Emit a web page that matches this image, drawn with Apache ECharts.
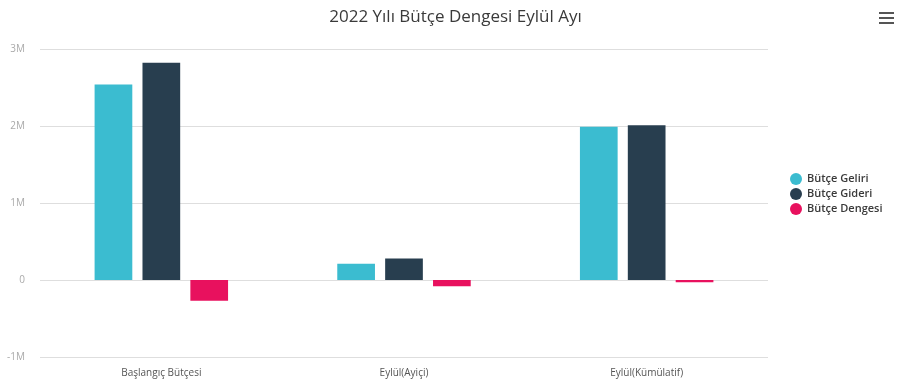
<!DOCTYPE html>
<html><head><meta charset="utf-8">
<script src="https://cdn.jsdelivr.net/npm/echarts@6/dist/echarts.min.js"></script>
<style>html,body{margin:0;padding:0;background:#fff}#c{width:911px;height:391px}</style>
</head><body><div id="c"></div>
<script>
var categories = ['Başlangıç Bütçesi', 'Eylül(Ayiçi)', 'Eylül(Kümülatif)'];
var seriesNames = ['Bütçe Geliri', 'Bütçe Gideri', 'Bütçe Dengesi'];
var geliri = [2540000, 210000, 1990000];
var gideri = [2820000, 280000, 2010000];
var dengesi = [-270000, -80000, -30000];
var colors = ['#3bbcd0', '#283e4f', '#e8115e'];

var chart = echarts.init(document.getElementById('c'));
var font = '"Open Sans", "Noto Sans", sans-serif';
function bar(name, data, color) {
  return { name: name, type: 'bar', data: data, itemStyle: { color: color }, barGap: '27%', barCategoryGap: '45%' };
}
chart.setOption({
  animation: false,
  color: colors,
  title: { text: '2022 Yılı Bütçe Dengesi Eylül Ayı', left: 'center', top: 4,
    textStyle: { fontFamily: font, fontSize: 17, fontWeight: 'normal', color: '#3a3a3a' } },
  legend: { orient: 'vertical', left: 785, top: 168, icon: 'circle', itemWidth: 12, itemHeight: 12, itemGap: 3,
    textStyle: { fontFamily: font, fontSize: 11, fontWeight: 600, color: '#3a3a3a' } },
  grid: { left: 40, right: 143, top: 49, bottom: 34 },
  xAxis: { type: 'category', data: categories,
    axisLine: { show: false, onZero: false }, axisTick: { show: false },
    axisLabel: { margin: 11, fontFamily: font, fontSize: 10, color: '#555' } },
  yAxis: { type: 'value', min: -1000000, max: 3000000, interval: 1000000,
    axisLabel: { margin: 15, fontFamily: font, fontSize: 10, color: '#aaa',
      formatter: function (v) { return v === 0 ? '0' : (v / 1000000) + 'M'; } },
    splitLine: { lineStyle: { color: '#dedede' } } },
  series: [bar(seriesNames[0], geliri, colors[0]), bar(seriesNames[1], gideri, colors[1]), bar(seriesNames[2], dengesi, colors[2])],
  graphic: [
    { type: 'rect', left: 879, top: 12, shape: { width: 15, height: 2 }, style: { fill: '#555' } },
    { type: 'rect', left: 879, top: 17, shape: { width: 15, height: 2 }, style: { fill: '#555' } },
    { type: 'rect', left: 879, top: 22, shape: { width: 15, height: 2 }, style: { fill: '#555' } }
  ]
});
</script></body></html>
